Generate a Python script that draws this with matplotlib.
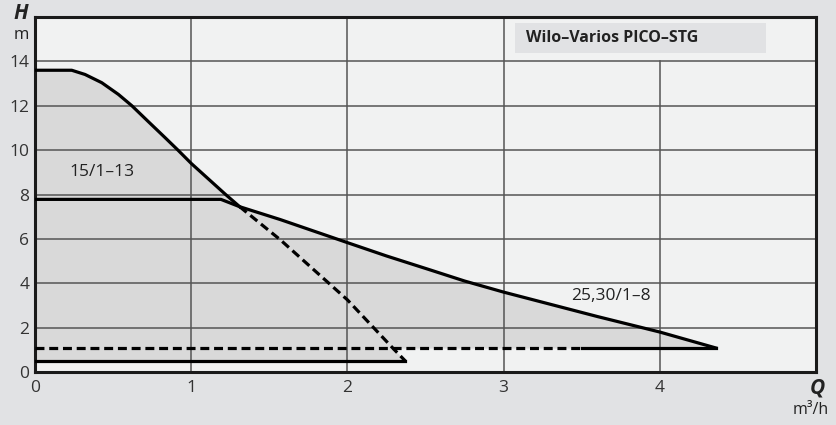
import numpy as np
import matplotlib.pyplot as plt

plt.rcParams['font.family'] = ['Open Sans', 'DejaVu Sans']

# 15/1-13 : max curve (solid part, then dashed part), min line
q1_solid = [0.0, 0.235, 0.32, 0.427, 0.534, 0.62, 0.726, 0.83, 0.915, 1.0, 1.11, 1.22, 1.31]
h1_solid = [13.6, 13.6, 13.41, 13.04, 12.51, 12.0, 11.28, 10.58, 10.0, 9.4, 8.7, 8.0, 7.45]
q1_dash = [1.31, 1.57, 2.0, 2.29, 2.37]
h1_dash = [7.45, 5.96, 3.25, 1.08, 0.5]
h1_min = 0.5

# 25,30/1-8 : max curve, min line (dashed up to 3.5, then solid)
q2 = [0.0, 1.19, 1.31, 1.57, 2.0, 2.25, 2.53, 2.75, 3.0, 3.24, 3.6, 4.0, 4.36]
h2 = [7.78, 7.78, 7.45, 6.87, 5.83, 5.23, 4.6, 4.1, 3.6, 3.16, 2.5, 1.8, 1.08]
h2_min = 1.08
q2_min_split = 3.5

x_ticks = [0, 1, 2, 3, 4]
y_ticks = [0, 2, 4, 6, 8, 10, 12, 14]

fig = plt.figure(figsize=(8.36, 4.25), dpi=100)
fig.patch.set_facecolor('#e1e2e4')
ax = fig.add_axes([0.0419, 0.1247, 0.9343, 0.8353])
ax.set_facecolor('#f1f2f2')
ax.set_xlim(0, 5)
ax.set_ylim(0, 16)

# shaded operating area
fill_col = '#d9d9d9'
qa = q1_solid + q1_dash[1:]
ha = h1_solid + h1_dash[1:]
ax.fill_between(qa, h1_min, ha, color=fill_col, lw=0, zorder=1)
ax.fill_between(q2, h2_min, h2, color=fill_col, lw=0, zorder=1)

# grid
gc = '#555555'
for y in y_ticks[1:]:
    ax.axhline(y, color=gc, lw=1.1, zorder=2)
for x in x_ticks[1:4]:
    ax.axvline(x, color=gc, lw=1.1, zorder=2)
ax.plot([4, 4], [0, 14], color=gc, lw=1.1, zorder=2)

# curves
lw = 2.3
dash = (0, (2.8, 1.5))
ax.plot(q1_solid, h1_solid, color='black', lw=lw, zorder=4)
ax.plot(q1_dash, h1_dash, color='black', lw=lw, ls=dash, zorder=4)
ax.plot([0, q1_dash[-1]], [h1_min, h1_min], color='black', lw=lw, zorder=4)
ax.plot(q2, h2, color='black', lw=lw, zorder=4)
ax.plot([0, q2_min_split], [h2_min, h2_min], color='black', lw=lw, ls=dash, zorder=4)
ax.plot([q2_min_split, q2[-1]], [h2_min, h2_min], color='black', lw=lw, zorder=4)

# labels on curves
ax.text(0.22, 9.0, '15/1–13', fontsize=12.5, color='#222222', va='center', zorder=5)
ax.text(3.43, 3.43, '25,30/1–8', fontsize=12.5, color='#222222', va='center', zorder=5)

# title box
ax.add_patch(plt.Rectangle((3.07, 14.36), 1.61, 1.36, facecolor='#e1e2e4', edgecolor='none', zorder=3))
ax.text(3.14, 15.04, 'Wilo–Varios PICO–STG', fontsize=11.5, fontweight='bold', color='#222222',
        va='center', zorder=5)

# ticks
ax.set_xticks(x_ticks)
ax.set_yticks(y_ticks)
ax.tick_params(length=0, labelsize=12.5, colors='#333333', pad=4)
ax.tick_params(axis='x', pad=6)
for s in ax.spines.values():
    s.set_linewidth(2.2)
    s.set_color('#1a1a1a')

# axis titles
fig.text(0.025, 0.968, 'H', fontsize=15, fontweight='bold', style='italic', ha='center', va='center', color='#222222')
fig.text(0.025, 0.918, 'm', fontsize=12, ha='center', va='center', color='#222222')
fig.text(0.978, 0.088, 'Q', fontsize=15, fontweight='bold', style='italic', ha='center', va='center', color='#222222')
fig.text(0.97, 0.035, 'm³/h', fontsize=11.5, ha='center', va='center', color='#222222')

fig.savefig('out.png', dpi=100, facecolor=fig.get_facecolor())
